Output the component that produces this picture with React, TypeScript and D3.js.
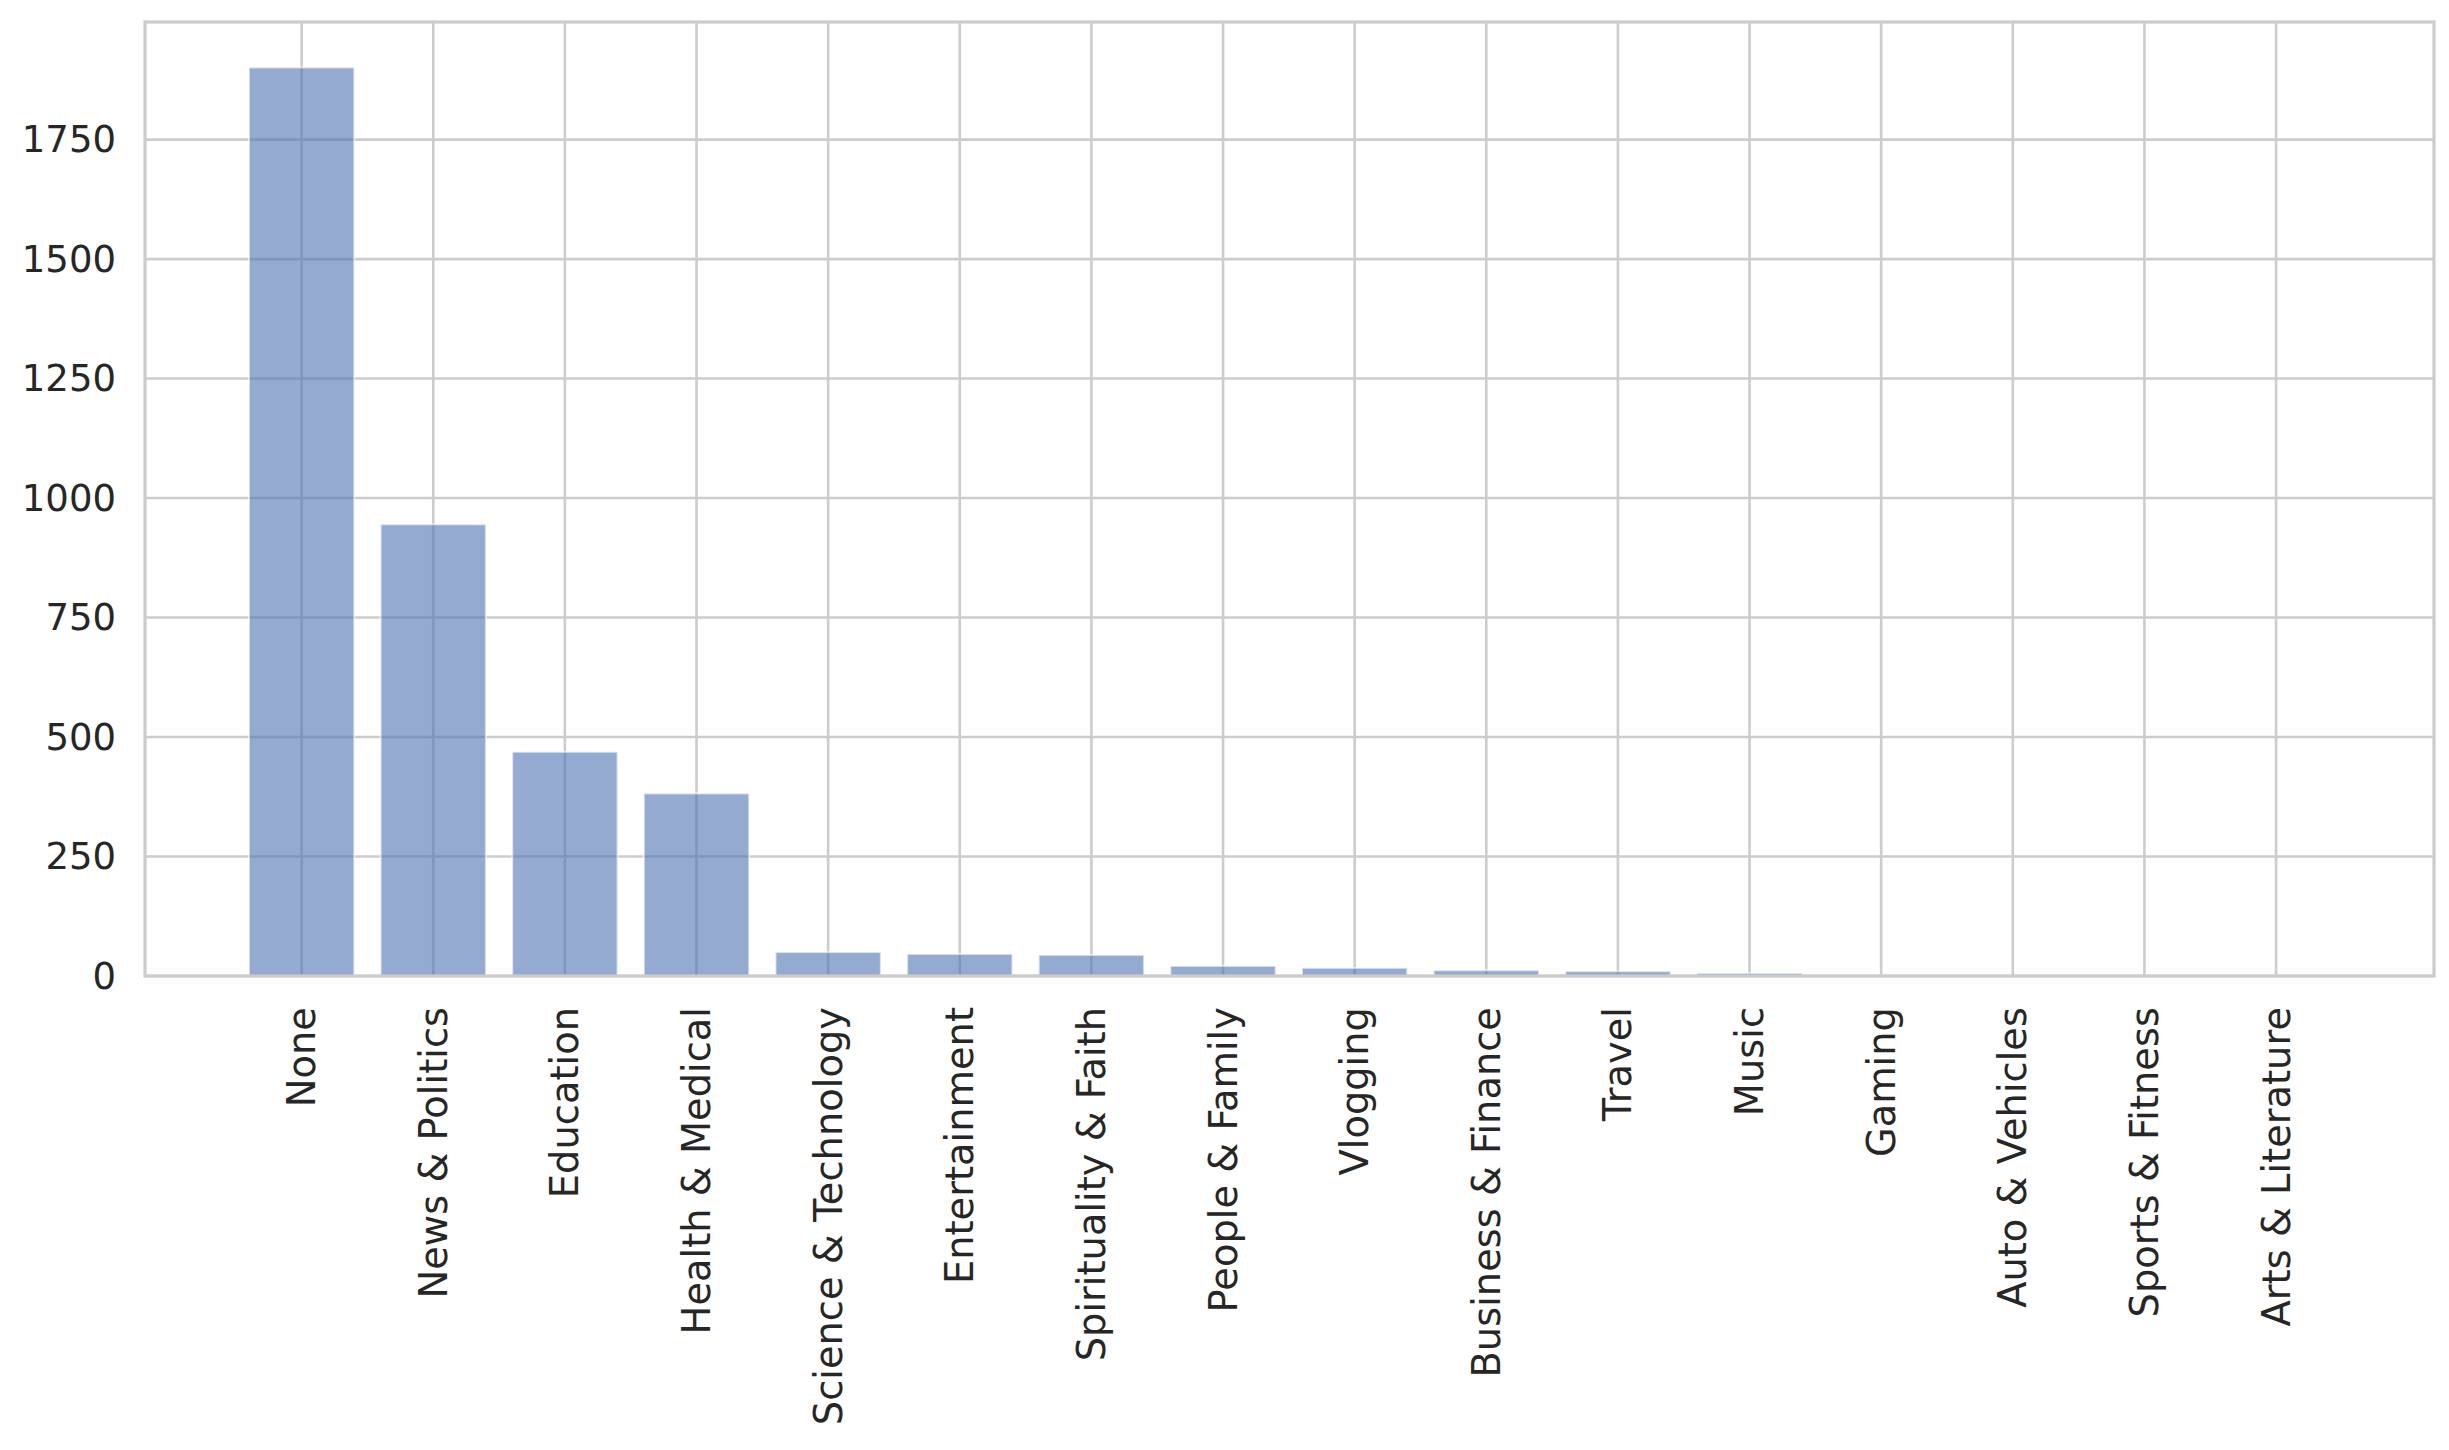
import React from "react";
import * as d3 from "d3";

const categories = [
  "None",
  "News & Politics",
  "Education",
  "Health & Medical",
  "Science & Technology",
  "Entertainment",
  "Spirituality & Faith",
  "People & Family",
  "Vlogging",
  "Business & Finance",
  "Travel",
  "Music",
  "Gaming",
  "Auto & Vehicles",
  "Sports & Fitness",
  "Arts & Literature",
];
const counts = [1901, 945, 469, 382, 50, 46, 44, 21, 17, 12, 10, 6, 1, 0, 0, 0];
const yTicks = [0, 250, 500, 750, 1000, 1250, 1500, 1750];

const W = 2449;
const H = 1450;
const plot = { left: 145, right: 2434, top: 22, bottom: 976 };
const FONT = "'DejaVu Sans', sans-serif";
const TEXT = "#262626";
const GRID = "#cccccc";

export default function App() {
  const x = d3.scaleLinear().domain([-1.19, 16.2]).range([plot.left, plot.right]);
  const yMax = d3.max(counts)! * 1.05;
  const y = d3.scaleLinear().domain([0, yMax]).range([plot.bottom, plot.top]);
  const barW = x(0.8) - x(0);

  return (
    <svg
      width={W}
      height={H}
      style={{ position: "absolute", left: 0, top: 0, background: "#fff" }}
      fontFamily={FONT}
    >
      <rect x={0} y={0} width={W} height={H} fill="#fff" />
      {/* grid */}
      {yTicks.map((t) => (
        <line key={"gy" + t} x1={plot.left} x2={plot.right} y1={y(t)} y2={y(t)} stroke={GRID} strokeWidth={2.6} />
      ))}
      {categories.map((c, i) => (
        <line key={"gx" + c} x1={x(i)} x2={x(i)} y1={plot.top} y2={plot.bottom} stroke={GRID} strokeWidth={2.6} />
      ))}
      {/* bars */}
      {categories.map((c, i) => (
        <rect
          key={"b" + c}
          x={x(i) - barW / 2}
          y={y(counts[i])}
          width={barW}
          height={y(0) - y(counts[i])}
          fill="#4c72b0"
          fillOpacity={0.6}
          stroke="#ffffff"
          strokeOpacity={0.6}
          strokeWidth={2}
        />
      ))}
      {/* spines */}
      <rect
        x={plot.left}
        y={plot.top}
        width={plot.right - plot.left}
        height={plot.bottom - plot.top}
        fill="none"
        stroke={GRID}
        strokeWidth={3.2}
      />
      {/* y tick labels */}
      {yTicks.map((t) => (
        <text
          key={"ty" + t}
          x={plot.left - 29}
          y={y(t)}
          textAnchor="end"
          dominantBaseline="central"
          fontSize={37}
          fill={TEXT}
        >
          {t}
        </text>
      ))}
      {/* x tick labels */}
      {categories.map((c, i) => (
        <text
          key={"tx" + c}
          transform={`translate(${x(i)},${plot.bottom + 31}) rotate(-90)`}
          textAnchor="end"
          dominantBaseline="central"
          fontSize={38.4}
          fill={TEXT}
        >
          {c}
        </text>
      ))}
    </svg>
  );
}
